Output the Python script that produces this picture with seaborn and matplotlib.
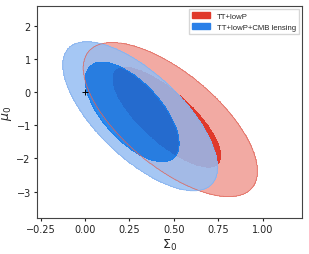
import numpy as np
import pandas as pd
import seaborn as sns
import matplotlib.pyplot as plt
from matplotlib.patches import Patch

# contour shapes: one gaussian per confidence level
# columns: centre x, centre y, sigma x, sigma y, correlation
labels = ["TT+lowP", "TT+lowP+CMB lensing"]
red_outer = [0.48, -0.83, 0.197, 0.935, -0.67]
red_inner = [0.46, -0.76, 0.200, 0.990, -0.77]
blue_outer = [0.31, -0.73, 0.175, 0.904, -0.69]
blue_inner = [0.265, -0.60, 0.174, 0.990, -0.64]
fiducial = [0.0, 0.0]

colors = {"TT+lowP": ["#f2aaa3", "#e0392b"],
          "TT+lowP+CMB lensing": ["#95bef3", "#0475ec"]}
edge = {"TT+lowP": "#e0675b", "TT+lowP+CMB lensing": "#80aeee"}
legend_colors = ["#e0392b", "#2a80e8"]

sns.set_style("ticks")
fig = plt.figure(figsize=(3.09, 2.55), dpi=100)
ax = fig.add_axes([0.12, 0.141, 0.857, 0.832])

gx, gy = np.meshgrid(np.linspace(-0.4, 1.4, 600), np.linspace(-4.5, 3.0, 600))


def inside(p, d2):
    cx, cy, sx, sy, r = p
    u = (gx - cx) / sx
    v = (gy - cy) / sy
    m = (u * u - 2 * r * u * v + v * v) / (1 - r * r)
    return m <= d2


for lab, outer, inner, alpha in [(labels[0], red_outer, red_inner, 1.0),
                                 (labels[1], blue_outer, blue_inner, 0.85)]:
    z = np.where(inside(inner, 2.30), 2.0, inside(outer, 6.18).astype(float))
    ax.contourf(gx, gy, z, levels=[0.5, 1.5, 2.5], colors=colors[lab], alpha=alpha)
    ax.contour(gx, gy, z, levels=[0.5], colors=[edge[lab]], linewidths=0.5, alpha=alpha)

ax.plot(fiducial[0], fiducial[1], marker="+", color="black", ms=5, mew=0.7)

ax.set_xlim(-0.27, 1.22)
ax.set_ylim(-3.8, 2.6)
ax.set_xticks([-0.25, 0.0, 0.25, 0.5, 0.75, 1.0])
ax.set_yticks([-3, -2, -1, 0, 1, 2])
ax.tick_params(labelsize=7, length=2.5, width=0.8, pad=2, colors="#222222")
ax.set_xlabel(r"$\Sigma_0$", fontsize=9, labelpad=2)
ax.set_ylabel(r"$\mu_0$", fontsize=9, labelpad=2)
for s in ax.spines.values():
    s.set_color("#444444")
    s.set_linewidth(0.8)

handles = [Patch(color=c) for c in legend_colors]
ax.legend(handles, labels, loc="upper right", frameon=True, fancybox=False,
          edgecolor="#cccccc", handlelength=2.3, handleheight=0.7,
          borderaxespad=0.4, prop={"family": "Liberation Sans", "size": 5.6})

fig.savefig("out.png", dpi=100)
